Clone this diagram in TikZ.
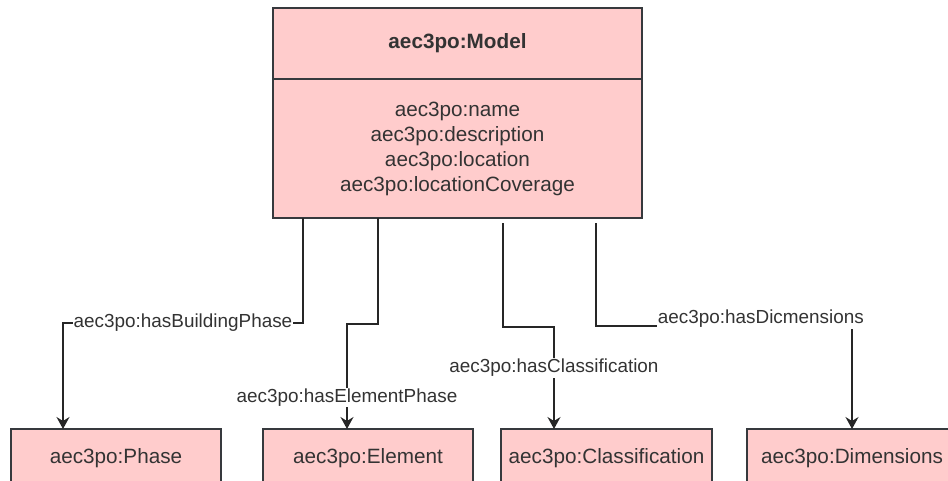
\documentclass[tikz,border=0pt]{standalone}
\usepackage{fontspec}
\setmainfont{Liberation Sans}
\usetikzlibrary{positioning}
\usetikzlibrary{arrows.meta}
\definecolor{boxfill}{HTML}{FFCCCC}
\definecolor{boxline}{HTML}{36393D}
\definecolor{textgrey}{HTML}{333333}

\begin{document}
\begin{tikzpicture}[x=1pt, y=-1pt, node distance=0pt, >={Stealth[length=12pt,width=13pt,inset=4pt]}]
	\tikzstyle{classbox}=[draw=boxline, fill=boxfill, line width=1.4pt, outer sep=0pt, inner sep=0pt, text=textgrey, font=\fontsize{20.7}{25}\selectfont]
	\tikzstyle{class head}=[classbox, minimum width=369, minimum height=71, font=\fontsize{20.7}{25}\selectfont\bfseries];
	\tikzstyle{class body}=[classbox, minimum width=369, minimum height=139, align=center];
	\tikzstyle{leaf}=[classbox, minimum width=210, minimum height=58];
	\tikzstyle{relation}=[->, draw=black!85, line width=1.3pt]
	\tikzstyle{relname}=[fill=white, text=textgrey, inner sep=1pt, font=\fontsize{18.9}{22}\selectfont]

	\useasboundingbox (0,0) rectangle (948,480);

	% Draw the model class
	\node[class head] (modelhead) at (457.5,43.5) {aec3po:Model};
	\node[class body, below=of modelhead] (model) {aec3po:name\\aec3po:description\\aec3po:location\\aec3po:locationCoverage};

	% Draw the target classes
	\node[leaf] (phase) at (116,458) {aec3po:Phase};
	\node[leaf] (element) at (368,458) {aec3po:Element};
	\node[leaf, minimum width=211] (classification) at (606.5,458) {aec3po:Classification};
	\node[leaf] (dimensions) at (852,458) {aec3po:Dimensions};

	% Connect model to the targets
	\draw[relation] (model.south -| 303,0) |- (63,323)
	node[relname, pos=0.75] (lbl-phase) {aec3po:hasBuildingPhase} -- (phase.north -| 63,0);
	\draw[relation] (model.south -| 378,0) |- (347,324) -- (element.north -| 347,0)
	node[relname, pos=0.7] (lbl-element) {aec3po:hasElementPhase};
	\draw[relation, shorten <=5pt] (model.south -| 503,0) |- (554,327) -- (classification.north -| 554,0)
	node[relname, pos=0.4] (lbl-classification) {aec3po:hasClassification};
	\draw[relation, shorten <=5pt] (model.south -| 596,0) |- (852,326)
	node[relname, pos=0.822, yshift=7pt] (lbl-dimensions) {aec3po:hasDicmensions} -- (dimensions.north);

\end{tikzpicture}
\end{document}
